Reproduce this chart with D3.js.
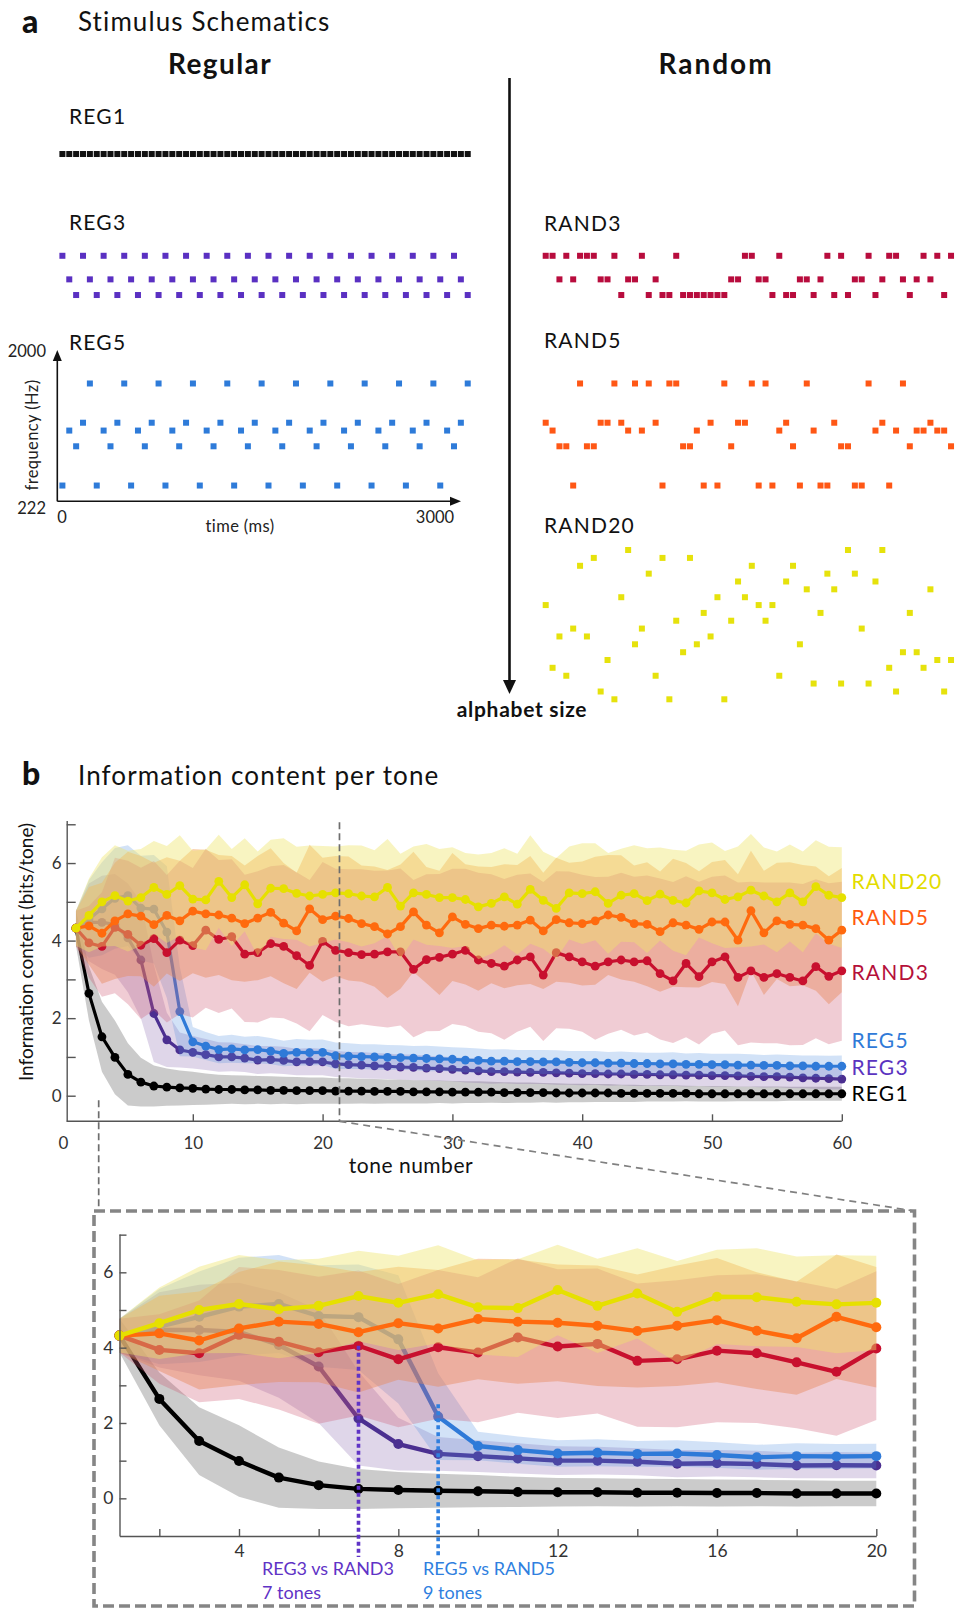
<!DOCTYPE html>
<html>
<head>
<meta charset="utf-8">
<script src="https://cdn.jsdelivr.net/npm/d3@7"></script>
<style>
  html, body { margin: 0; padding: 0; background: #fff; }
  svg { display: block; font-family: Lato, "Open Sans", sans-serif; }
</style>
</head>
<body>
<svg id="fig" width="956" height="1608"></svg>
<script>
// ---------- Stimulus schematics: frequency pool and tone sequences ----------
// 20 log-spaced frequencies (Hz); sequences index into this pool (0 = 222 Hz).
const poolHz = [222, 249, 280, 314, 353, 396, 444, 499, 560, 629, 706, 792, 889, 998, 1121, 1258, 1412, 1585, 1780, 2000];

const seqREG1 = [13,13,13,13,13,13,13,13,13,13,13,13,13,13,13,13,13,13,13,13,
                 13,13,13,13,13,13,13,13,13,13,13,13,13,13,13,13,13,13,13,13,
                 13,13,13,13,13,13,13,13,13,13,13,13,13,13,13,13,13,13,13,13];
const seqREG3 = [15,12,10,15,12,10,15,12,10,15,12,10,15,12,10,15,12,10,15,12,
                 10,15,12,10,15,12,10,15,12,10,15,12,10,15,12,10,15,12,10,15,
                 12,10,15,12,10,15,12,10,15,12,10,15,12,10,15,12,10,15,12,10];
const seqREG5 = [2,9,7,10,15,2,9,7,10,15,2,9,7,10,15,2,9,7,10,15,
                 2,9,7,10,15,2,9,7,10,15,2,9,7,10,15,2,9,7,10,15,
                 2,9,7,10,15,2,9,7,10,15,2,9,7,10,15,2,9,7,10,15];
const seqRAND3 = [15,15,12,15,12,15,15,15,12,12,15,10,12,12,15,10,12,10,10,15,
                  10,10,10,10,10,10,10,12,12,15,15,12,12,10,15,10,10,12,12,10,
                  12,15,10,15,10,12,12,15,10,12,15,15,12,10,12,15,12,15,10,15];
const seqRAND5 = [10,9,7,7,2,15,7,7,10,10,15,10,9,15,9,15,10,2,15,15,
                  7,7,9,2,10,2,15,7,10,10,15,2,15,2,9,10,7,2,15,9,
                  2,2,10,7,7,2,2,15,9,10,2,9,15,7,9,9,10,9,9,7];
const seqRAND20 = [12,4,8,3,9,17,8,18,1,5,0,13,19,7,9,16,3,18,0,10,
                   6,18,7,11,8,13,0,10,15,13,17,12,10,12,3,15,17,7,14,2,
                   11,16,14,2,19,16,9,2,15,19,4,1,6,11,6,4,14,5,1,5];

// ---------- Information content per tone (bits/tone): mean and spread ----------
const tones = d3.range(1, 61);

const reg1Mean = [4.32,2.64,1.52,0.99,0.55,0.35,0.25,0.22,0.20,0.19,0.17,0.16,0.16,0.15,0.15,0.14,0.14,0.13,0.13,0.13,
                  0.12,0.12,0.12,0.11,0.11,0.11,0.10,0.10,0.10,0.09,0.09,0.09,0.09,0.08,0.08,0.08,0.08,0.07,0.07,0.07,
                  0.07,0.07,0.06,0.06,0.06,0.06,0.06,0.06,0.05,0.05,0.05,0.05,0.05,0.05,0.05,0.05,0.05,0.05,0.05,0.05];
const reg3Mean = [4.32,4.47,4.47,4.42,4.07,3.50,2.12,1.44,1.18,1.12,1.06,1.00,1.00,0.97,0.92,0.93,0.91,0.87,0.88,0.87,
                  0.82,0.80,0.79,0.77,0.76,0.74,0.73,0.71,0.70,0.68,0.66,0.64,0.62,0.62,0.61,0.60,0.60,0.59,0.58,0.57,
                  0.57,0.56,0.56,0.55,0.55,0.54,0.54,0.53,0.53,0.52,0.52,0.51,0.50,0.49,0.49,0.48,0.46,0.45,0.44,0.43];
const reg5Mean = [4.32,4.56,4.82,5.09,5.16,4.84,4.81,4.22,2.17,1.39,1.28,1.19,1.21,1.18,1.19,1.15,1.09,1.12,1.11,1.12,
                  1.03,1.02,1.01,1.00,0.99,0.98,0.97,0.96,0.95,0.94,0.92,0.91,0.89,0.89,0.88,0.88,0.87,0.87,0.86,0.85,
                  0.85,0.84,0.84,0.83,0.83,0.82,0.82,0.81,0.81,0.80,0.80,0.79,0.79,0.78,0.78,0.77,0.77,0.76,0.76,0.76];
const rand3Mean = [4.32,3.94,3.85,4.34,4.16,3.88,4.05,3.69,4.01,3.87,4.27,4.03,4.10,3.65,3.69,3.92,3.85,3.61,3.36,3.98,
                   3.75,3.69,3.64,3.65,3.71,3.71,3.26,3.51,3.57,3.65,3.75,3.50,3.41,3.34,3.50,3.58,3.11,3.69,3.58,3.45,
                   3.34,3.45,3.50,3.45,3.48,3.15,2.96,3.41,3.07,3.45,3.58,3.05,3.22,3.05,3.15,3.05,2.96,3.33,3.08,3.22];
const rand5Mean = [4.32,4.38,4.19,4.51,4.69,4.63,4.41,4.65,4.51,4.76,4.69,4.66,4.58,4.44,4.58,4.73,4.45,4.25,4.82,4.54,
                   4.63,4.57,4.44,4.36,4.17,4.36,4.74,4.40,4.20,4.61,4.42,4.31,4.40,4.37,4.40,4.53,4.25,4.54,4.46,4.44,
                   4.51,4.66,4.60,4.44,4.42,4.23,4.46,4.40,4.29,4.48,4.48,4.01,4.77,4.20,4.51,4.42,4.40,4.31,4.01,4.27];
const rand20Mean = [4.32,4.65,5.00,5.16,5.02,5.11,5.37,5.19,5.42,5.07,5.05,5.53,5.11,5.44,4.95,5.35,5.34,5.22,5.15,5.19,
                    5.23,5.21,5.15,5.13,5.37,4.89,5.23,5.19,5.11,5.11,5.06,4.87,4.96,5.13,4.94,5.32,5.04,4.83,5.23,5.21,
                    5.26,4.96,5.17,5.21,5.03,5.20,5.04,4.97,5.28,5.23,5.06,5.13,5.30,5.15,5.00,5.23,5.00,5.39,5.17,5.11];

// Spread below / above each mean
const reg1Sd = [0.45,0.7,0.9,0.95,0.8,0.63,0.53,0.48,0.45,0.43,0.4,0.38,0.37,0.37,0.36,0.36,0.35,0.35,0.34,0.34,
                0.33,0.33,0.32,0.32,0.31,0.31,0.3,0.3,0.29,0.29,0.28,0.28,0.27,0.27,0.26,0.26,0.25,0.25,0.24,0.24,
                0.23,0.23,0.22,0.22,0.21,0.21,0.21,0.2,0.2,0.2,0.2,0.19,0.19,0.19,0.19,0.18,0.18,0.18,0.18,0.18];
const reg3Sd = [0.45,1.0,1.2,1.3,1.4,1.5,1.25,0.7,0.45,0.42,0.4,0.38,0.37,0.36,0.36,0.35,0.35,0.34,0.35,0.34,
                0.34,0.33,0.34,0.33,0.33,0.32,0.33,0.32,0.32,0.31,0.32,0.31,0.31,0.3,0.31,0.3,0.3,0.31,0.3,0.3,
                0.29,0.3,0.29,0.3,0.29,0.29,0.28,0.29,0.28,0.29,0.28,0.28,0.27,0.28,0.27,0.28,0.27,0.27,0.28,0.27];
const reg5Sd = [0.45,1.0,1.2,1.3,1.3,1.35,1.4,1.7,1.15,0.38,0.36,0.35,0.36,0.34,0.35,0.34,0.33,0.34,0.33,0.33,
                0.34,0.33,0.32,0.33,0.32,0.32,0.31,0.33,0.32,0.31,0.32,0.31,0.3,0.31,0.3,0.3,0.31,0.3,0.29,0.3,
                0.3,0.29,0.3,0.29,0.28,0.29,0.3,0.28,0.29,0.28,0.28,0.29,0.28,0.27,0.28,0.28,0.27,0.28,0.27,0.28];
const rand3SdLo = [0.45,0.9,1.3,1.7,1.8,1.9,1.85,1.8,1.9,1.85,2.0,1.9,1.85,1.75,1.8,1.9,1.85,1.75,1.7,1.9,
                   1.85,1.9,1.8,1.85,1.95,1.9,1.75,1.85,1.9,1.8,1.95,1.85,1.8,1.9,1.85,1.8,1.7,1.95,1.85,1.8,
                   1.9,1.85,1.8,1.9,1.85,1.7,1.6,1.9,1.75,1.85,1.9,1.75,1.85,1.7,1.8,1.75,1.65,1.85,1.75,1.8];
const rand3SdHi = [0.45,0.95,1.4,1.8,1.9,2.0,2.0,2.0,2.05,2.0,2.1,2.05,2.0,2.05,2.1,2.0,2.1,2.15,2.2,2.05,
                   2.1,2.15,2.2,2.15,2.1,2.15,2.3,2.2,2.15,2.2,2.1,2.25,2.3,2.25,2.2,2.15,2.4,2.1,2.2,2.25,
                   2.3,2.2,2.25,2.2,2.2,2.45,2.55,2.25,2.45,2.2,2.1,2.45,2.3,2.45,2.35,2.45,2.5,2.25,2.4,2.3];
const rand5Sd = [0.45,1.0,1.3,1.5,1.6,1.55,1.6,1.5,1.55,1.6,1.65,1.55,1.6,1.5,1.6,1.65,1.55,1.5,1.65,1.6,
                 1.55,1.6,1.5,1.55,1.65,1.6,1.55,1.5,1.6,1.65,1.55,1.6,1.5,1.6,1.55,1.65,1.5,1.6,1.55,1.6,
                 1.65,1.55,1.6,1.5,1.6,1.55,1.65,1.6,1.5,1.55,1.6,1.7,1.55,1.6,1.5,1.6,1.55,1.6,1.65,1.6];
const rand20Sd = [0.45,0.95,1.15,1.3,1.3,1.25,1.2,1.25,1.3,1.25,1.3,1.2,1.25,1.2,1.35,1.25,1.3,1.2,1.3,1.25,
                  1.2,1.25,1.3,1.2,1.25,1.35,1.2,1.3,1.25,1.3,1.2,1.35,1.3,1.25,1.3,1.4,1.25,1.3,1.2,1.3,
                  1.25,1.3,1.2,1.25,1.35,1.2,1.3,1.35,1.2,1.3,1.25,1.3,1.45,1.25,1.3,1.25,1.3,1.2,1.25,1.3];

// Axis ticks
const yTicksMain = [0, 1, 2, 3, 4, 5, 6, 7];
const xTicksMain = [0, 10, 20, 30, 40, 50, 60];
const yTicksInset = [0, 1, 2, 3, 4, 5, 6, 7];
const xTicksInset = [2, 4, 6, 8, 10, 12, 14, 16, 18, 20];

// Tone at which each regular sequence departs from its random counterpart
const divergence = [
  { label: "REG3 vs RAND3", note: "7 tones", tone: 7, top: 4.05, color: "#5f33c6" },
  { label: "REG5 vs RAND5", note: "9 tones", tone: 9, top: 2.5, color: "#2f7fdf" }
];

// ---------- drawing ----------
const svg = d3.select("#fig");
const FONT = 'Lato, "Open Sans", sans-serif';

function text(x, y, s, o = {}) {
  return svg.append("text").attr("x", x).attr("y", y).text(s)
    .attr("font-size", o.size || 20)
    .attr("font-weight", o.weight || 400)
    .attr("letter-spacing", o.ls || 0)
    .attr("fill", o.fill || "#111")
    .attr("text-anchor", o.anchor || "start");
}

// Panel headings
text(22, 33, "a", { size: 32, weight: 900 });
text(78, 31, "Stimulus Schematics", { size: 26, ls: 1.1 });
text(220, 74, "Regular", { size: 28, weight: 700, anchor: "middle", ls: 1.4 });
text(716, 74, "Random", { size: 28, weight: 700, anchor: "middle", ls: 2.0 });

// Schematic scales
const tLeft = d3.scaleLinear().domain([0, 60]).range([59, 471.2]);
const tRight = d3.scaleLinear().domain([0, 60]).range([542.3, 954.5]);
const fScale = d3.scaleLog().domain([2000, 222]).range([0, 149.3]);
const SQ = 6;

const schematics = [
  { name: "REG1",   seq: seqREG1,   color: "#111111", tx: tLeft,  top: 106.8, lx: 69,  ly: 124 },
  { name: "REG3",   seq: seqREG3,   color: "#5a30c2", tx: tLeft,  top: 224.3, lx: 69,  ly: 230 },
  { name: "REG5",   seq: seqREG5,   color: "#2e7bd9", tx: tLeft,  top: 352,   lx: 69,  ly: 350 },
  { name: "RAND3",  seq: seqRAND3,  color: "#b80c3d", tx: tRight, top: 224.3, lx: 544, ly: 231 },
  { name: "RAND5",  seq: seqRAND5,  color: "#ff5715", tx: tRight, top: 352,   lx: 544, ly: 348 },
  { name: "RAND20", seq: seqRAND20, color: "#e6e20c", tx: tRight, top: 550,   lx: 544, ly: 533 }
];

schematics.forEach(s => {
  text(s.lx, s.ly, s.name, { size: 21, ls: 1.2 });
  svg.append("g").selectAll("rect").data(s.seq).join("rect")
    .attr("x", (d, i) => s.tx(i) + 0.4)
    .attr("y", d => s.top + fScale(poolHz[d]) - SQ / 2)
    .attr("width", SQ).attr("height", SQ)
    .attr("fill", s.color);
});

// Time / frequency axes under REG5
const axBase = 352 + fScale(222);
const axX = 57.3;
svg.append("line").attr("x1", axX).attr("y1", axBase).attr("x2", axX).attr("y2", 360)
  .attr("stroke", "#111").attr("stroke-width", 1.6);
svg.append("path").attr("d", `M${axX},350 L${axX - 4.5},361 L${axX + 4.5},361 Z`).attr("fill", "#111");
svg.append("line").attr("x1", axX).attr("y1", axBase).attr("x2", 450).attr("y2", axBase)
  .attr("stroke", "#111").attr("stroke-width", 1.6);
svg.append("path").attr("d", `M461,${axBase} L450,${axBase - 4.5} L450,${axBase + 4.5} Z`).attr("fill", "#111");
text(46, 352 + fScale(2000) + 5, "2000", { size: 16.5, anchor: "end", fill: "#222" });
text(46, axBase + 13, "222", { size: 16.5, anchor: "end", fill: "#222" });
text(tLeft(0) + 3, 523, "0", { size: 16.5, anchor: "middle", fill: "#222" });
text(435, 523, "3000", { size: 16.5, anchor: "middle", fill: "#222" });
text(240, 532, "time (ms)", { size: 16.5, anchor: "middle", fill: "#222", ls: 0.4 });
svg.append("text").attr("transform", "translate(38,435) rotate(-90)")
  .attr("text-anchor", "middle").attr("font-size", 16.5).attr("letter-spacing", 0.4)
  .attr("fill", "#222").text("frequency (Hz)");

// Alphabet-size arrow
svg.append("line").attr("x1", 509.5).attr("y1", 78).attr("x2", 509.5).attr("y2", 682)
  .attr("stroke", "#111").attr("stroke-width", 2.6);
svg.append("path").attr("d", "M509.5,694 L503,680 L516,680 Z").attr("fill", "#111");
text(522, 717, "alphabet size", { size: 21, weight: 700, anchor: "middle", ls: 0.7 });

// ---------- Panel b ----------
text(22, 785, "b", { size: 32, weight: 900 });
text(78, 785, "Information content per tone", { size: 26, ls: 1.1 });

const series = [
  { name: "REG1",   mean: reg1Mean,   lo: reg1Sd,    hi: reg1Sd,    line: "#000000", band: "#a0a0a0", op: 0.55, label: "#000000" },
  { name: "REG3",   mean: reg3Mean,   lo: reg3Sd,    hi: reg3Sd,    line: "#4b2f90", band: "#7e5aa8", op: 0.25, label: "#5b34c0" },
  { name: "REG5",   mean: reg5Mean,   lo: reg5Sd,    hi: reg5Sd,    line: "#2f7ad8", band: "#4a8ae0", op: 0.25, label: "#2f7ad8" },
  { name: "RAND5",  mean: rand5Mean,  lo: rand5Sd,   hi: rand5Sd,   line: "#ff6a0e", band: "#f39a4a", op: 0.42, label: "#ff5a10" },
  { name: "RAND3",  mean: rand3Mean,  lo: rand3SdLo, hi: rand3SdHi, line: "#c8102e", band: "#cd5570", op: 0.30, label: "#b5103a" },
  { name: "RAND20", mean: rand20Mean, lo: rand20Sd,  hi: rand20Sd,  line: "#e6e000", band: "#eee46c", op: 0.42, label: "#e3dc00" }
];
const byName = Object.fromEntries(series.map(s => [s.name, s]));

// Stacking order of shaded spreads and mean traces
const layers = [
  ["REG1", "band"], ["REG1", "line"],
  ["REG3", "band"], ["REG3", "line"],
  ["REG5", "band"], ["REG5", "line"],
  ["RAND5", "band"], ["RAND3", "band"], ["RAND3", "line"],
  ["RAND20", "band"], ["RAND5", "line"], ["RAND20", "line"]
];

function drawSeries(g, x, y, n, r, lw) {
  const idx = d3.range(n);
  layers.forEach(([name, kind]) => {
    const s = byName[name];
    if (kind === "band") {
      const area = d3.area()
        .x(i => x(tones[i]))
        .y0(i => y(s.mean[i] - s.lo[i]))
        .y1(i => y(s.mean[i] + s.hi[i]));
      g.append("path").attr("d", area(idx)).attr("fill", s.band).attr("fill-opacity", s.op);
    } else {
      const line = d3.line().x(i => x(tones[i])).y(i => y(s.mean[i]));
      g.append("path").attr("d", line(idx)).attr("fill", "none")
        .attr("stroke", s.line).attr("stroke-width", lw).attr("stroke-linejoin", "round");
      g.append("g").selectAll("circle").data(idx).join("circle")
        .attr("cx", i => x(tones[i])).attr("cy", i => y(s.mean[i]))
        .attr("r", r).attr("fill", s.line);
    }
  });
}

function styleAxis(g, size) {
  g.selectAll("path.domain").attr("stroke", "#555").attr("stroke-width", 1.4);
  g.selectAll(".tick line").attr("stroke", "#555").attr("stroke-width", 1.4);
  g.selectAll(".tick text").attr("font-family", FONT).attr("font-size", size).attr("fill", "#333");
}

// Main plot
const xMain = d3.scaleLinear().domain([0, 60]).range([63, 841.8]);
const yMain = d3.scaleLinear().domain([-0.66, 7.1]).range([1121.3, 820.4]);
const mainAxisX = 66.7;

const gMain = svg.append("g");
drawSeries(gMain, xMain, yMain, 60, 4.4, 3.2);

const gyMain = svg.append("g").attr("transform", `translate(${mainAxisX},0)`)
  .call(d3.axisLeft(yMain).tickValues(yTicksMain).tickSizeInner(-9).tickSizeOuter(0).tickPadding(5)
    .tickFormat(d => (d % 2 === 0 && d < 7) ? d : ""));
styleAxis(gyMain, 17);

const gxMain = svg.append("g").attr("transform", `translate(0,${yMain(-0.66)})`)
  .call(d3.axisBottom(xMain).tickValues(xTicksMain).tickSizeInner(-7).tickSizeOuter(0).tickPadding(16));
gxMain.select("path.domain").remove();
gxMain.selectAll(".tick").filter(d => d === 0).select("line").remove();
styleAxis(gxMain, 17);
svg.append("line").attr("x1", mainAxisX).attr("x2", xMain(60)).attr("y1", yMain(-0.66)).attr("y2", yMain(-0.66))
  .attr("stroke", "#555").attr("stroke-width", 1.4);

text(411, 1173, "tone number", { size: 21, fill: "#111", anchor: "middle", ls: 0.5 });
svg.append("text").attr("transform", "translate(33,952) rotate(-90)")
  .attr("text-anchor", "middle").attr("font-size", 19).attr("fill", "#111")
  .text("Information content (bits/tone)");

// End-of-line labels
const labelBaseline = { RAND20: 889, RAND5: 925, RAND3: 980, REG5: 1048, REG3: 1075, REG1: 1101 };
series.forEach(s => {
  text(851.5, labelBaseline[s.name], s.name, { size: 21, fill: s.label, ls: 1.2 });
});

// Zoom guides from the main plot to the inset
const zoomEdges = [2.75, 21.3];
const box = { x: 94, y: 1211, w: 820.5, h: 395 };
svg.append("line").attr("x1", xMain(zoomEdges[1])).attr("x2", xMain(zoomEdges[1]))
  .attr("y1", yMain(7.05)).attr("y2", yMain(-0.66))
  .attr("stroke", "#6e6e6e").attr("stroke-width", 1.7).attr("stroke-dasharray", "7,4");
svg.append("line").attr("x1", xMain(zoomEdges[1])).attr("y1", yMain(-0.66))
  .attr("x2", box.x + box.w).attr("y2", box.y)
  .attr("stroke", "#808080").attr("stroke-width", 1.7).attr("stroke-dasharray", "7,5");
svg.append("line").attr("x1", xMain(zoomEdges[0])).attr("x2", xMain(zoomEdges[0]))
  .attr("y1", yMain(-0.12)).attr("y2", box.y)
  .attr("stroke", "#6e6e6e").attr("stroke-width", 1.7).attr("stroke-dasharray", "7,4");

// Inset (first 20 tones)
const xIn = d3.scaleLinear().domain([1, 20]).range([119.5, 876.3]);
const yIn = d3.scaleLinear().domain([-1, 7.02]).range([1536, 1233.9]);

const gIn = svg.append("g");
drawSeries(gIn, xIn, yIn, 20, 5.0, 4.4);

const gyIn = svg.append("g").attr("transform", `translate(${xIn(1)},0)`)
  .call(d3.axisLeft(yIn).tickValues(yTicksInset).tickSizeInner(-7).tickSizeOuter(0).tickPadding(6)
    .tickFormat(d => (d % 2 === 0 && d < 7) ? d : ""));
styleAxis(gyIn, 17.5);
const gxIn = svg.append("g").attr("transform", `translate(0,${yIn(-1)})`)
  .call(d3.axisBottom(xIn).tickValues(xTicksInset).tickSizeInner(-7).tickSizeOuter(0).tickPadding(9)
    .tickFormat(d => d % 4 === 0 ? d : ""));
styleAxis(gxIn, 17.5);

// Divergence markers
divergence.forEach(d => {
  svg.append("line").attr("x1", xIn(d.tone)).attr("x2", xIn(d.tone))
    .attr("y1", yIn(d.top)).attr("y2", 1557)
    .attr("stroke", d.color).attr("stroke-width", 3.6).attr("stroke-dasharray", "4,3");
});
text(262, 1575, divergence[0].label, { size: 18, fill: divergence[0].color });
text(262, 1599, divergence[0].note, { size: 18, fill: divergence[0].color });
text(423, 1575, divergence[1].label, { size: 18, fill: divergence[1].color });
text(423, 1599, divergence[1].note, { size: 18, fill: divergence[1].color });

// Inset frame
svg.append("rect").attr("x", box.x).attr("y", box.y).attr("width", box.w).attr("height", box.h)
  .attr("fill", "none").attr("stroke", "#858585").attr("stroke-width", 3.6).attr("stroke-dasharray", "11,5");
</script>
</body>
</html>
